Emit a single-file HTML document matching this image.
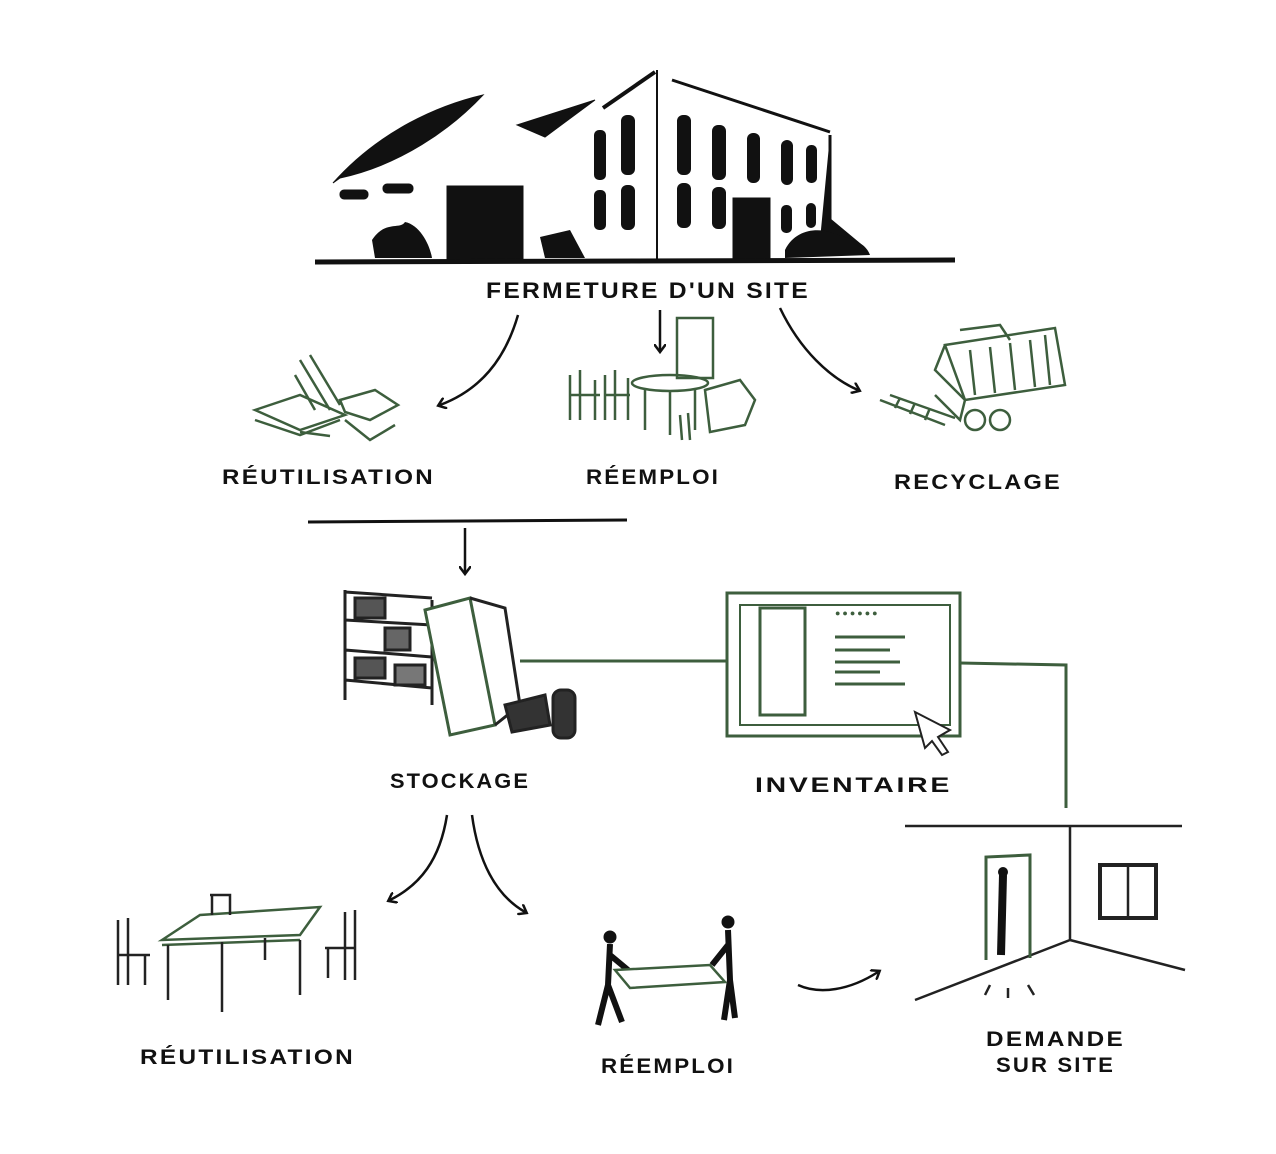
<!DOCTYPE html>
<html><head><meta charset="utf-8"><style>
html,body{margin:0;padding:0;background:#fff;}
svg{display:block}
text{font-family:"Liberation Sans",sans-serif;font-weight:bold;letter-spacing:2px;}
</style></head><body>
<svg width="1276" height="1154" viewBox="0 0 1276 1154" xmlns="http://www.w3.org/2000/svg">
<defs>
<marker id="ah" markerWidth="12" markerHeight="12" refX="6" refY="6" orient="auto" markerUnits="userSpaceOnUse">
<path d="M0,0 L8,6 L0,12" fill="none" stroke="#111" stroke-width="2.5"/>
</marker>
</defs>
<g fill="#111" stroke="#111">
<path d="M333,183 C380,130 440,105 483,95 C450,130 400,165 340,178 Z"/>
<path d="M517,125 L595,100 L545,137 Z"/>
<path d="M603,108 L655,72" stroke-width="4" fill="none"/>
<path d="M672,80 L830,132" stroke-width="3" fill="none"/>
<path d="M657,70 L657,262" stroke-width="2" fill="none"/>
<path d="M830,135 L830,220 L860,245 L820,240" stroke-width="3"/>
<rect x="340" y="190" width="28" height="9" rx="4"/>
<rect x="383" y="184" width="30" height="9" rx="4"/>
<rect x="447" y="186" width="76" height="76"/>
<rect x="733" y="198" width="37" height="62"/>
<g stroke="none">
<rect x="594" y="130" width="12" height="50" rx="5"/><rect x="621" y="115" width="14" height="60" rx="6"/>
<rect x="677" y="115" width="14" height="60" rx="6"/><rect x="712" y="125" width="14" height="55" rx="6"/>
<rect x="747" y="133" width="13" height="50" rx="6"/><rect x="781" y="140" width="12" height="45" rx="6"/>
<rect x="806" y="145" width="11" height="38" rx="5"/>
<rect x="594" y="190" width="12" height="40" rx="5"/><rect x="621" y="185" width="14" height="45" rx="6"/>
<rect x="677" y="183" width="14" height="45" rx="6"/><rect x="712" y="187" width="14" height="42" rx="6"/>
<rect x="781" y="205" width="11" height="28" rx="5"/><rect x="806" y="203" width="10" height="25" rx="5"/>
</g>
<path d="M372,240 C385,220 400,230 405,222 C420,225 430,245 432,258 L375,258 Z" stroke="none"/>
<path d="M540,237 L570,230 L585,258 L545,258 Z" stroke="none"/>
<path d="M785,250 C795,230 815,228 830,232 C845,238 865,240 870,255 L785,258 Z" stroke="none"/>
<path d="M315,262 L955,260" stroke-width="5" fill="none"/>
</g>
<text x="486" y="298" font-size="22" fill="#111" textLength="324" lengthAdjust="spacingAndGlyphs">FERMETURE D'UN SITE</text>
<g stroke="#111" stroke-width="2.5" fill="none" marker-end="url(#ah)">
<path d="M518,315 C505,360 480,390 440,405"/>
<path d="M660,310 L660,350"/>
<path d="M780,308 C800,350 830,378 858,390"/>
</g>
<g stroke="#3d5e3d" stroke-width="2.5" fill="none">
<path d="M255,410 L300,395 L345,415 L300,430 Z"/><path d="M255,420 L300,435 L340,420"/>
<path d="M300,360 L330,410 M310,355 L340,405 M295,375 L315,410"/>
<path d="M340,400 L375,390 L398,405 L370,420 L345,412 Z"/><path d="M345,420 L370,440 L395,425"/>
<path d="M300,432 L330,436"/>
<rect x="677" y="318" width="36" height="60"/>
<ellipse cx="670" cy="383" rx="38" ry="8"/><path d="M645,388 L645,430 M695,388 L695,430 M670,392 L670,435"/>
<path d="M570,375 L570,420 M580,370 L580,420 M570,395 L600,395 M595,380 L595,420"/>
<path d="M605,375 L605,420 M615,370 L615,420 M605,395 L630,395 M628,378 L628,420"/>
<path d="M705,390 L740,380 L755,400 L745,425 L710,432 Z"/><path d="M680,415 L682,440 M688,413 L690,440"/>
<path d="M945,345 L1055,328 L1065,385 L965,400 Z"/><path d="M945,345 L935,370 L965,400 L960,420 L935,395"/>
<path d="M970,350 L975,395 M990,347 L995,393 M1010,343 L1015,390 M1030,340 L1035,387 M1045,335 L1050,385"/>
<path d="M960,330 L1000,325 L1010,340"/>
<path d="M880,400 L945,425 M890,395 L955,418 M900,398 L895,408 M915,403 L910,414 M930,408 L925,420"/>
<circle cx="975" cy="420" r="10"/><circle cx="1000" cy="420" r="10"/>
</g>
<g fill="#111">
<text x="222" y="484" font-size="21" textLength="213" lengthAdjust="spacingAndGlyphs">RÉUTILISATION</text>
<text x="586" y="484" font-size="21" textLength="134" lengthAdjust="spacingAndGlyphs">RÉEMPLOI</text>
<text x="894" y="489" font-size="21" textLength="168" lengthAdjust="spacingAndGlyphs">RECYCLAGE</text>
</g>
<path d="M308,522 L627,520" stroke="#111" stroke-width="3"/>
<path d="M465,528 L465,572" stroke="#111" stroke-width="2.5" fill="none" marker-end="url(#ah)"/>
<g stroke="#222" stroke-width="3" fill="none">
<path d="M345,590 L345,700 M432,600 L432,705 M345,620 L432,625 M345,650 L432,657 M345,680 L432,688 M345,592 L432,598"/>
<rect x="355" y="598" width="30" height="20" fill="#555"/><rect x="385" y="628" width="25" height="22" fill="#666"/>
<rect x="355" y="658" width="30" height="20" fill="#555"/><rect x="395" y="665" width="30" height="20" fill="#777"/>
<path d="M425,610 L470,598 L495,725 L450,735 Z" stroke="#3d5e3d" fill="#fff"/>
<path d="M470,598 L505,608 L520,705 L495,725" />
<path d="M505,705 L545,695 L550,725 L512,732 Z" fill="#333"/>
<rect x="553" y="690" width="22" height="48" rx="8" fill="#333"/>
</g>
<g stroke="#3d5e3d" stroke-width="3" fill="none">
<path d="M520,661 L727,661"/>
<rect x="727" y="593" width="233" height="143"/>
<rect x="740" y="605" width="210" height="120" stroke-width="2"/>
<rect x="760" y="608" width="45" height="107"/>
<path d="M835,637 L905,637 M835,650 L890,650 M835,662 L900,662 M835,672 L880,672 M835,684 L905,684"/>
<path d="M960,663 L1066,665 L1066,808"/>
</g>
<text x="835" y="616" font-size="9" fill="#3d5e3d">●●●●●●</text>
<path d="M915,712 L950,730 L938,737 L948,752 L942,755 L932,741 L925,748 Z" fill="#fff" stroke="#222" stroke-width="2"/>
<g fill="#111">
<text x="390" y="788" font-size="21" textLength="140" lengthAdjust="spacingAndGlyphs">STOCKAGE</text>
<text x="755" y="792" font-size="21" textLength="197" lengthAdjust="spacingAndGlyphs">INVENTAIRE</text>
</g>
<g stroke="#111" stroke-width="2.5" fill="none" marker-end="url(#ah)">
<path d="M447,815 C440,860 420,885 390,900"/>
<path d="M472,815 C478,860 495,895 525,912"/>
<path d="M798,985 C820,995 850,990 878,972"/>
</g>
<g stroke="#222" stroke-width="2.5" fill="none">
<path d="M162,940 L200,915 L320,907 L300,935 Z" stroke="#3d5e3d"/>
<path d="M162,945 L300,940" stroke="#3d5e3d"/>
<path d="M168,945 L168,1000 M222,942 L222,1012 M300,940 L300,995 M265,938 L265,960"/>
<path d="M118,920 L118,985 M128,918 L128,985 M118,955 L150,955 M145,955 L145,985"/>
<path d="M210,895 L230,895 L230,915 M212,895 L212,915"/>
<path d="M355,910 L355,980 M345,912 L345,980 M325,948 L355,948 M328,948 L328,978"/>
</g>
<g fill="#111" stroke="#111" stroke-width="3">
<circle cx="610" cy="937" r="5"/><path d="M610,944 L608,985 L598,1025 M608,985 L622,1022 M610,955 L628,970" fill="none" stroke-width="6"/>
<circle cx="728" cy="922" r="5"/><path d="M728,930 L730,980 L724,1020 M730,980 L735,1018 M728,945 L712,965" fill="none" stroke-width="6"/>
</g>
<path d="M615,970 L710,965 L725,982 L630,988 Z" fill="#fff" stroke="#3d5e3d" stroke-width="2.5"/>
<g fill="#111">
<text x="140" y="1064" font-size="21" textLength="215" lengthAdjust="spacingAndGlyphs">RÉUTILISATION</text>
<text x="601" y="1073" font-size="21" textLength="134" lengthAdjust="spacingAndGlyphs">RÉEMPLOI</text>
<text x="986" y="1046" font-size="21" textLength="139" lengthAdjust="spacingAndGlyphs">DEMANDE</text>
<text x="996" y="1072" font-size="21" textLength="119" lengthAdjust="spacingAndGlyphs">SUR SITE</text>
</g>
<g stroke="#222" stroke-width="2.5" fill="none">
<path d="M905,826 L1182,826 M1070,826 L1070,940 M1070,940 L1185,970 M1070,940 L915,1000"/>
<path d="M986,960 L986,857 L1030,855 L1030,958" stroke="#3d5e3d" stroke-width="3"/>
<rect x="1100" y="865" width="56" height="53" stroke-width="4"/><path d="M1128,865 L1128,918"/>
<path d="M990,985 L985,995 M1008,988 L1008,998 M1028,985 L1034,995"/>
</g>
<path d="M1003,875 L1001,955" stroke="#111" stroke-width="8"/><circle cx="1003" cy="872" r="5" fill="#111"/>
</svg>
</body></html>
